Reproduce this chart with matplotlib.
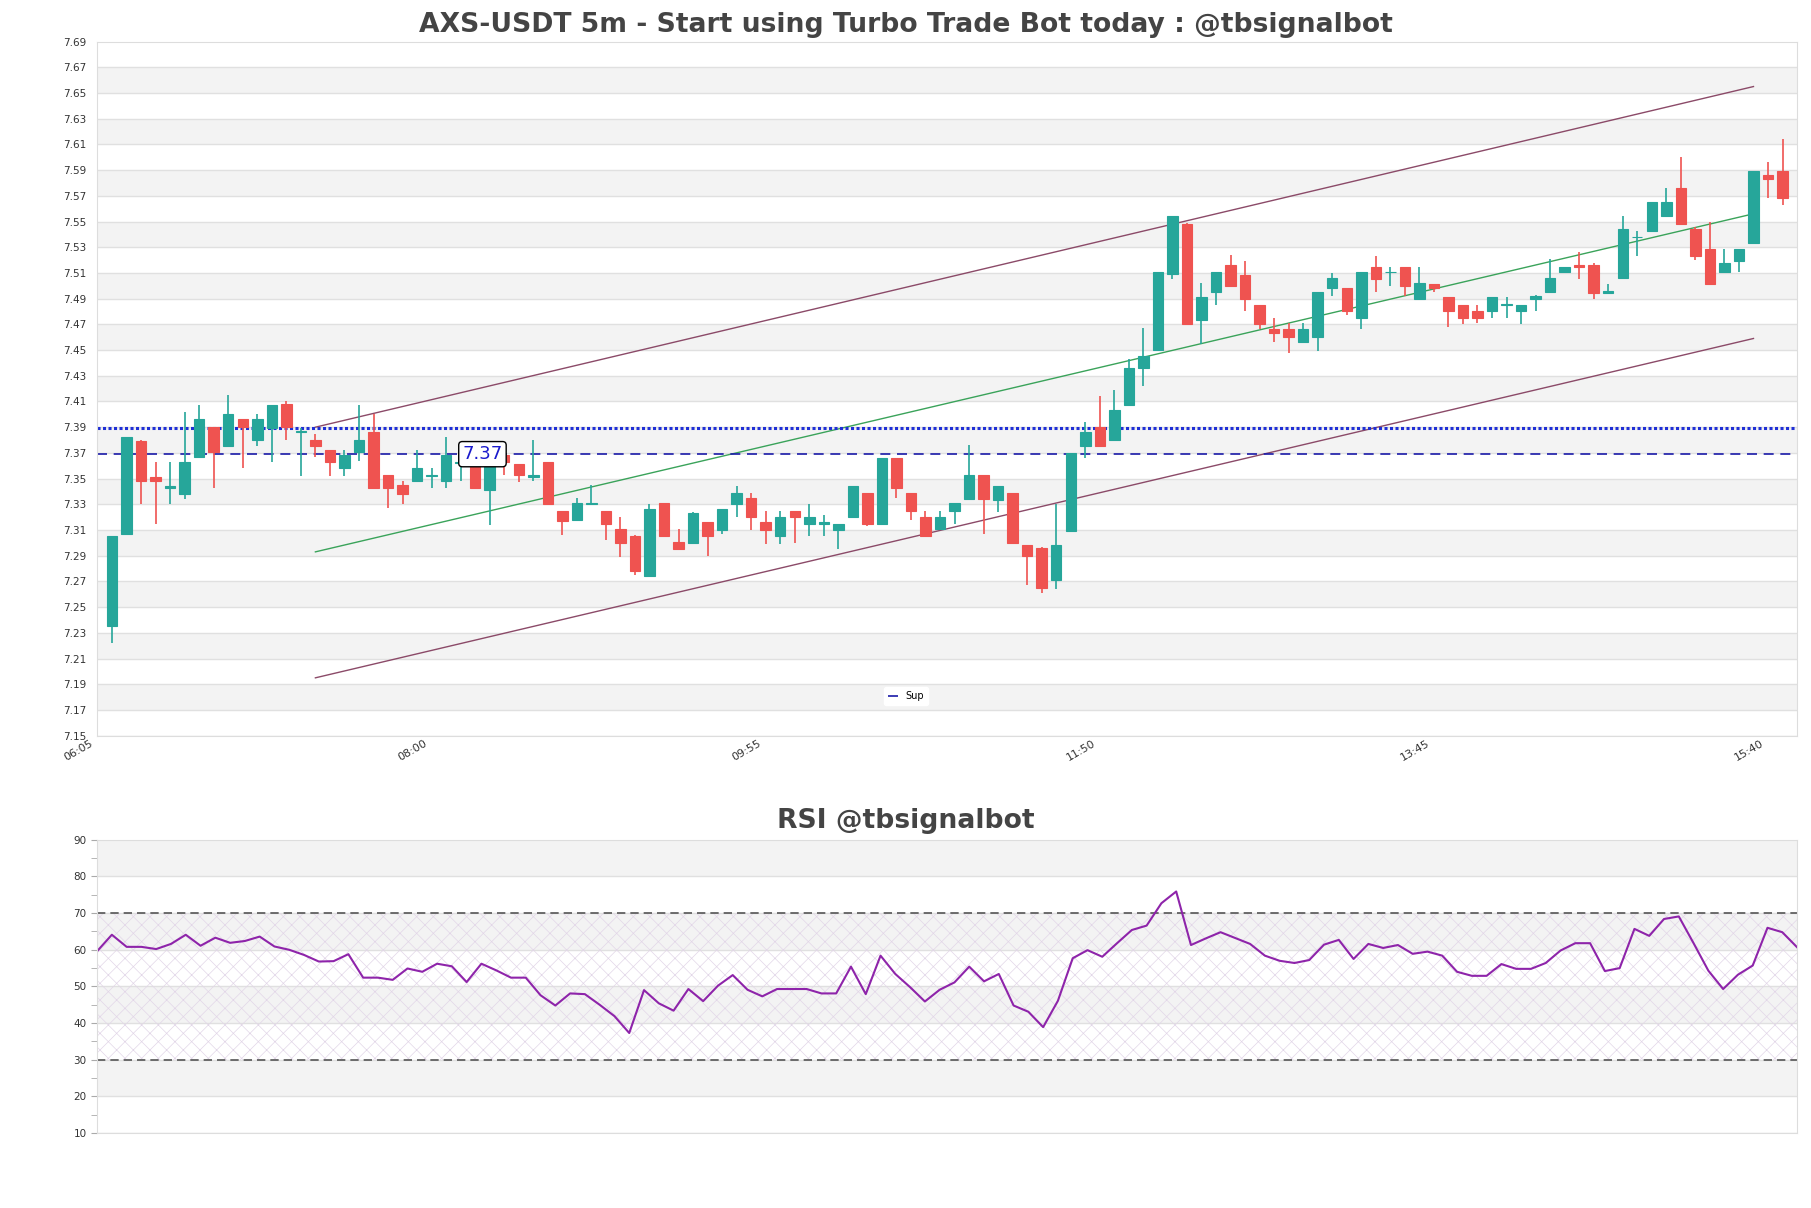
import matplotlib
matplotlib.use("Agg")
from matplotlib import pyplot as plt
from matplotlib.transforms import ScaledTranslation
import numpy as np

# candle data, 5m bars from 06:05 to 15:40
opens = [7.235, 7.307, 7.379, 7.351, 7.343, 7.338, 7.367, 7.390, 7.375, 7.396,
         7.380, 7.389, 7.408, 7.386, 7.380, 7.372, 7.358, 7.371, 7.386, 7.353,
         7.345, 7.348, 7.352, 7.348, 7.362, 7.366, 7.341, 7.368, 7.361, 7.351,
         7.363, 7.325, 7.318, 7.330, 7.325, 7.311, 7.305, 7.274, 7.331, 7.301,
         7.300, 7.316, 7.310, 7.330, 7.335, 7.316, 7.305, 7.325, 7.315, 7.315,
         7.310, 7.320, 7.339, 7.315, 7.366, 7.339, 7.320, 7.311, 7.325, 7.334,
         7.353, 7.333, 7.339, 7.298, 7.296, 7.271, 7.309, 7.375, 7.390, 7.380,
         7.407, 7.436, 7.450, 7.509, 7.548, 7.473, 7.495, 7.516, 7.508, 7.485,
         7.466, 7.466, 7.456, 7.460, 7.498, 7.498, 7.475, 7.515, 7.5105, 7.515,
         7.490, 7.501, 7.491, 7.485, 7.480, 7.480, 7.4852, 7.480, 7.490, 7.495,
         7.511, 7.5162, 7.5165, 7.494, 7.506, 7.5380, 7.543, 7.554, 7.576, 7.544,
         7.529, 7.511, 7.519, 7.533, 7.5865, 7.589]
highs = [7.305, 7.382, 7.380, 7.363, 7.363, 7.402, 7.407, 7.390, 7.415, 7.396,
         7.400, 7.407, 7.410, 7.389, 7.385, 7.372, 7.372, 7.407, 7.400, 7.353,
         7.348, 7.372, 7.358, 7.382, 7.369, 7.369, 7.366, 7.370, 7.361, 7.380,
         7.363, 7.325, 7.335, 7.345, 7.325, 7.320, 7.306, 7.330, 7.331, 7.311,
         7.324, 7.316, 7.326, 7.344, 7.339, 7.325, 7.325, 7.325, 7.330, 7.322,
         7.315, 7.344, 7.339, 7.366, 7.366, 7.339, 7.325, 7.325, 7.331, 7.376,
         7.353, 7.344, 7.339, 7.298, 7.297, 7.330, 7.370, 7.394, 7.414, 7.419,
         7.443, 7.467, 7.511, 7.554, 7.549, 7.502, 7.511, 7.524, 7.519, 7.485,
         7.475, 7.471, 7.471, 7.495, 7.510, 7.498, 7.511, 7.523, 7.515, 7.515,
         7.515, 7.501, 7.491, 7.485, 7.485, 7.491, 7.491, 7.485, 7.493, 7.521,
         7.515, 7.526, 7.518, 7.501, 7.554, 7.543, 7.565, 7.576, 7.600, 7.546,
         7.550, 7.529, 7.529, 7.589, 7.596, 7.614]
lows = [7.222, 7.307, 7.330, 7.315, 7.330, 7.334, 7.367, 7.343, 7.375, 7.358,
        7.375, 7.363, 7.380, 7.352, 7.367, 7.352, 7.352, 7.364, 7.343, 7.327,
        7.330, 7.348, 7.343, 7.343, 7.348, 7.343, 7.314, 7.353, 7.347, 7.348,
        7.330, 7.306, 7.318, 7.330, 7.302, 7.289, 7.275, 7.274, 7.305, 7.295,
        7.300, 7.290, 7.307, 7.320, 7.310, 7.299, 7.299, 7.300, 7.305, 7.305,
        7.295, 7.320, 7.313, 7.315, 7.335, 7.318, 7.305, 7.311, 7.315, 7.334,
        7.307, 7.324, 7.300, 7.267, 7.261, 7.264, 7.309, 7.366, 7.375, 7.380,
        7.407, 7.422, 7.450, 7.505, 7.470, 7.455, 7.485, 7.500, 7.480, 7.466,
        7.456, 7.448, 7.456, 7.449, 7.492, 7.477, 7.466, 7.495, 7.500, 7.492,
        7.490, 7.495, 7.468, 7.470, 7.471, 7.475, 7.475, 7.470, 7.480, 7.495,
        7.511, 7.505, 7.490, 7.494, 7.506, 7.523, 7.543, 7.554, 7.548, 7.520,
        7.501, 7.511, 7.511, 7.533, 7.568, 7.563]
closes = [7.305, 7.382, 7.348, 7.348, 7.344, 7.363, 7.396, 7.371, 7.400, 7.390,
          7.396, 7.407, 7.390, 7.387, 7.375, 7.363, 7.368, 7.380, 7.343, 7.343,
          7.338, 7.358, 7.353, 7.368, 7.363, 7.343, 7.366, 7.363, 7.353, 7.353,
          7.330, 7.317, 7.331, 7.331, 7.315, 7.300, 7.278, 7.326, 7.305, 7.295,
          7.323, 7.305, 7.326, 7.339, 7.320, 7.310, 7.320, 7.320, 7.320, 7.316,
          7.315, 7.344, 7.315, 7.366, 7.343, 7.325, 7.305, 7.320, 7.331, 7.353,
          7.334, 7.344, 7.300, 7.290, 7.265, 7.298, 7.370, 7.386, 7.375, 7.403,
          7.436, 7.445, 7.511, 7.554, 7.470, 7.491, 7.511, 7.500, 7.490, 7.470,
          7.463, 7.460, 7.466, 7.495, 7.506, 7.480, 7.511, 7.505, 7.5110, 7.500,
          7.502, 7.498, 7.480, 7.475, 7.475, 7.491, 7.4856, 7.485, 7.492, 7.506,
          7.515, 7.5150, 7.494, 7.496, 7.544, 7.5383, 7.565, 7.565, 7.548, 7.523,
          7.501, 7.518, 7.529, 7.589, 7.583, 7.568]

rsi = [59.6, 64.1, 60.8, 60.8, 60.2, 61.6, 64.1, 61.1, 63.3, 61.9,
       62.4, 63.6, 60.9, 60.0, 58.6, 56.8, 56.9, 58.8, 52.4, 52.4,
       51.8, 54.9, 54.0, 56.2, 55.5, 51.2, 56.2, 54.4, 52.4, 52.4,
       47.6, 44.8, 48.1, 47.9, 45.0, 41.9, 37.3, 49.0, 45.4, 43.4,
       49.3, 46.0, 50.2, 53.1, 49.1, 47.3, 49.3, 49.3, 49.3, 48.1,
       48.1, 55.4, 47.9, 58.4, 53.4, 49.8, 45.9, 49.1, 51.1, 55.4,
       51.4, 53.4, 44.8, 43.1, 38.9, 46.1, 57.7, 59.9, 58.1, 61.8,
       65.4, 66.6, 72.7, 75.9, 61.3, 63.1, 64.8, 63.2, 61.6, 58.4,
       57.0, 56.4, 57.2, 61.4, 62.7, 57.5, 61.6, 60.5, 61.3, 58.9,
       59.5, 58.4, 54.0, 52.9, 52.9, 56.1, 54.8, 54.8, 56.4, 59.8,
       61.8, 61.8, 54.2, 55.0, 65.7, 63.8, 68.4, 69.1, 61.8, 54.3,
       49.3, 53.2, 55.7, 66.0, 64.8, 60.7]

tick_idx = [0, 23, 46, 69, 92, 115]
tick_labels = ["06:05", "08:00", "09:55", "11:50", "13:45", "15:40"]

# trend channel (start / end candle index)
chan_x = [14, 113]
chan_upper = [7.390, 7.655]
chan_mid = [7.293, 7.556]
chan_lower = [7.195, 7.459]

sup_level = 7.369
res_level = 7.389

up_col = "#26a69a"
dn_col = "#ef5350"
title_col = "#444444"

fig = plt.figure(figsize=(18.11, 12.08), dpi=100)
ax = fig.add_axes([0.0536, 0.391, 0.9387, 0.5746])
ax2 = fig.add_axes([0.0536, 0.062, 0.9387, 0.2428])

# price panel
ymin, ymax = 7.15, 7.69
ax.set_xlim(-1.03, 116.0)
ax.set_ylim(ymin, ymax)
levels = np.round(np.arange(ymin, ymax + 0.001, 0.02), 2)
for k in range(len(levels) - 1):
    if k % 2 == 1:
        ax.axhspan(levels[k], levels[k + 1], color="#f3f3f3", zorder=0, lw=0)
    ax.axhline(levels[k], color="#e0e0e0", lw=1, zorder=0.5)

x = np.arange(len(opens))
o = np.array(opens)
c = np.array(closes)
colors = [up_col if cc >= oo else dn_col for oo, cc in zip(o, c)]
ax.vlines(x, lows, highs, colors=colors, lw=1.2, zorder=2)
ax.bar(x, c - o, bottom=o, width=0.72, color=colors, edgecolor=colors, lw=0.8, zorder=3)

ax.plot(chan_x, chan_upper, color="#8b4a68", lw=1, zorder=1.5)
ax.plot(chan_x, chan_lower, color="#8b4a68", lw=1, zorder=1.5)
ax.plot(chan_x, chan_mid, color="#3aa35a", lw=1, zorder=1.5)

ax.axhline(res_level, color="#1f2fd6", lw=2.2, ls=(0, (1, 0.8)), zorder=1.6)
ax.axhline(sup_level, color="#1a1aa8", lw=1.2, ls=(0, (6, 4)), zorder=1.6, label="Sup")
ax.text(25.5, sup_level, "7.37", color="#1a1acc", fontsize=13, ha="center", va="center", zorder=5,
        bbox=dict(boxstyle="round,pad=0.2", fc="white", ec="black", lw=1))

leg = ax.legend(loc="center", bbox_to_anchor=(0.476, 0.057), fontsize=7, handlelength=1,
                frameon=True, framealpha=1, edgecolor="white")

ax.set_yticks(levels)
ax.set_yticklabels([f"{v:.2f}" for v in levels], fontsize=7.5, color="#333333")
ax.tick_params(axis="y", length=0, pad=8)
ax.set_xticks(tick_idx)
ax.set_xticklabels(tick_labels, rotation=30, ha="right", fontsize=8, color="#333333")
ax.tick_params(axis="x", length=0, pad=2)
for lbl in ax.get_xticklabels():
    lbl.set_transform(lbl.get_transform() + ScaledTranslation(-0.17, 0, fig.dpi_scale_trans))
for s in ax.spines.values():
    s.set_color("#dddddd")

fig.text(0.5, 0.979, "AXS-USDT 5m - Start using Turbo Trade Bot today : @tbsignalbot",
         ha="center", va="center", fontsize=19.2, fontweight="bold", color=title_col)

# RSI panel
rx = np.arange(len(rsi))
ax2.set_xlim(0, len(rsi) - 1)
ax2.set_ylim(10, 90)
for k, lo in enumerate(range(10, 90, 10)):
    if k % 2 == 1:
        ax2.axhspan(lo, lo + 10, color="#f3f3f3", zorder=0, lw=0)
    ax2.axhline(lo, color="#e0e0e0", lw=1, zorder=0.5)
plt.rcParams["hatch.linewidth"] = 0.5
ax2.fill_between([0, len(rsi) - 1], 30, 70, facecolor="none", edgecolor="#e2d6e8",
                 hatch="xx", lw=0, zorder=0.8)
ax2.axhline(70, color="#555555", lw=1.2, ls=(0, (5, 3)), zorder=1)
ax2.axhline(30, color="#555555", lw=1.2, ls=(0, (5, 3)), zorder=1)
ax2.plot(rx, rsi, color="#8e24aa", lw=1.5, zorder=2)

ax2.set_yticks(range(10, 91, 10))
ax2.set_yticks(range(15, 90, 10), minor=True)
ax2.tick_params(axis="y", which="both", length=4, color="#aaaaaa", labelsize=7.5, labelcolor="#333333")
ax2.set_xticks([])
for s in ax2.spines.values():
    s.set_color("#dddddd")

fig.text(0.5, 0.3205, "RSI @tbsignalbot", ha="center", va="center", fontsize=19.2,
         fontweight="bold", color=title_col)

fig.savefig("out.png", dpi=100, facecolor="white")
